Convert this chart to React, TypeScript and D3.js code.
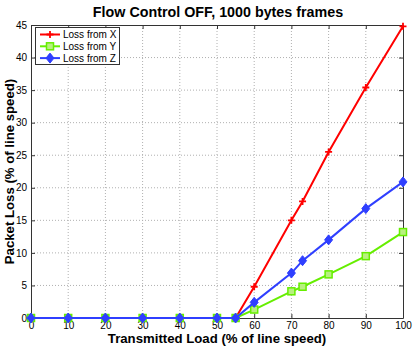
import React, { useEffect, useRef } from 'react';
import * as d3 from 'd3';

const loads = [0, 10, 20, 30, 40, 50, 55, 60, 70, 73, 80, 90, 100];
const lossX = [0, 0, 0, 0, 0, 0, 0, 4.8, 15.0, 17.9, 25.5, 35.4, 44.8];
const lossY = [0, 0, 0, 0, 0, 0, 0, 1.3, 4.1, 4.8, 6.7, 9.5, 13.2];
const lossZ = [0, 0, 0, 0, 0, 0, 0, 2.4, 6.9, 8.8, 12.0, 16.8, 20.9];
const xTicks = [0, 10, 20, 30, 40, 50, 60, 70, 80, 90, 100];
const yTicks = [0, 5, 10, 15, 20, 25, 30, 35, 40, 45];
const seriesNames = ['Loss from X', 'Loss from Y', 'Loss from Z'];
const seriesColors = ['#ff0000', '#66ee00', '#2f3fff'];
const seriesMarkers = ['plus', 'square', 'diamond'];

const FONT = 'Liberation Sans, Arial, Helvetica, sans-serif';

const App = () => {
  const ref = useRef<SVGSVGElement>(null);

  useEffect(() => {
    const svg = d3.select(ref.current);
    svg.selectAll('*').remove();

    const W = 415, H = 346;
    const left = 31, right = 403, top = 25, bottom = 318;

    const x = d3.scaleLinear().domain([0, 100]).range([left, right]);
    const y = d3.scaleLinear().domain([0, 45]).range([bottom, top]);

    svg.append('rect').attr('width', W).attr('height', H).attr('fill', '#fff');

    // grid
    const grid = svg.append('g').attr('stroke', '#b0b0b0').attr('stroke-dasharray', '1,2').attr('stroke-width', 1);
    xTicks.slice(1, -1).forEach(t => {
      grid.append('line').attr('x1', x(t)).attr('x2', x(t)).attr('y1', top).attr('y2', bottom);
    });
    yTicks.slice(1, -1).forEach(t => {
      grid.append('line').attr('x1', left).attr('x2', right).attr('y1', y(t)).attr('y2', y(t));
    });

    // axes (MATLAB box with inward ticks)
    const axB = svg.append('g').attr('transform', `translate(0,${bottom})`)
      .call(d3.axisBottom(x).tickValues(xTicks).tickSizeInner(-4).tickSizeOuter(0).tickPadding(4));
    const axT = svg.append('g').attr('transform', `translate(0,${top})`)
      .call(d3.axisTop(x).tickValues(xTicks).tickSizeInner(-4).tickSizeOuter(0).tickFormat(() => ''));
    const axL = svg.append('g').attr('transform', `translate(${left},0)`)
      .call(d3.axisLeft(y).tickValues(yTicks).tickSizeInner(-4).tickSizeOuter(0).tickPadding(4));
    const axR = svg.append('g').attr('transform', `translate(${right},0)`)
      .call(d3.axisRight(y).tickValues(yTicks).tickSizeInner(-4).tickSizeOuter(0).tickFormat(() => ''));
    [axB, axT, axL, axR].forEach(a => {
      a.selectAll('path,line').attr('stroke', '#333');
      a.selectAll('text').attr('font-family', FONT).attr('font-size', 10).attr('fill', '#000');
    });

    const drawMarker = (g: any, kind: string, cx: number, cy: number, color: string) => {
      if (kind === 'plus') {
        g.append('path').attr('d', `M${cx - 3.5},${cy}H${cx + 3.5}M${cx},${cy - 3.5}V${cy + 3.5}`)
          .attr('stroke', color).attr('stroke-width', 1.8);
      } else if (kind === 'square') {
        g.append('rect').attr('x', cx - 3.5).attr('y', cy - 3.5).attr('width', 7).attr('height', 7)
          .attr('fill', '#b8f080').attr('stroke', color).attr('stroke-width', 1.5);
      } else {
        g.append('path').attr('d', `M${cx},${cy - 5}L${cx + 4},${cy}L${cx},${cy + 5}L${cx - 4},${cy}Z`)
          .attr('fill', color).attr('stroke', color).attr('stroke-width', 1);
      }
    };

    const seriesData = [lossX, lossY, lossZ];
    const line = d3.line<number>().x((_, i) => x(loads[i])).y(d => y(d));
    seriesData.forEach((vals, k) => {
      const g = svg.append('g');
      g.append('path').attr('d', line(vals)).attr('fill', 'none')
        .attr('stroke', seriesColors[k]).attr('stroke-width', 2);
      vals.forEach((v, i) => drawMarker(g, seriesMarkers[k], x(loads[i]), y(v), seriesColors[k]));
    });

    // legend
    const lg = svg.append('g');
    lg.append('rect').attr('x', 35.5).attr('y', 27.5).attr('width', 84).attr('height', 37)
      .attr('fill', '#fff').attr('stroke', '#333');
    seriesNames.forEach((name, k) => {
      const ly = 34.5 + k * 11.8;
      lg.append('line').attr('x1', 40).attr('x2', 60).attr('y1', ly).attr('y2', ly)
        .attr('stroke', seriesColors[k]).attr('stroke-width', 2);
      drawMarker(lg, seriesMarkers[k], 50, ly, seriesColors[k]);
      lg.append('text').attr('x', 63).attr('y', ly).attr('dy', '0.35em')
        .attr('font-family', FONT).attr('font-size', 10).text(name);
    });

    // titles
    svg.append('text').attr('x', 218).attr('y', 17).attr('text-anchor', 'middle')
      .attr('font-family', FONT).attr('font-weight', 'bold').attr('font-size', 14.3)
      .text('Flow Control OFF, 1000 bytes frames');
    svg.append('text').attr('x', 217).attr('y', 343).attr('text-anchor', 'middle')
      .attr('font-family', FONT).attr('font-weight', 'bold').attr('font-size', 13.2)
      .text('Transmitted Load (% of line speed)');
    svg.append('text').attr('transform', `translate(14,${(top + bottom) / 2}) rotate(-90)`)
      .attr('text-anchor', 'middle')
      .attr('font-family', FONT).attr('font-weight', 'bold').attr('font-size', 13.2)
      .text('Packet Loss (% of line speed)');
  }, []);

  return (
    <svg ref={ref} width={415} height={346}
      style={{ position: 'absolute', left: 0, top: 0, display: 'block' }} />
  );
};

export default App;
